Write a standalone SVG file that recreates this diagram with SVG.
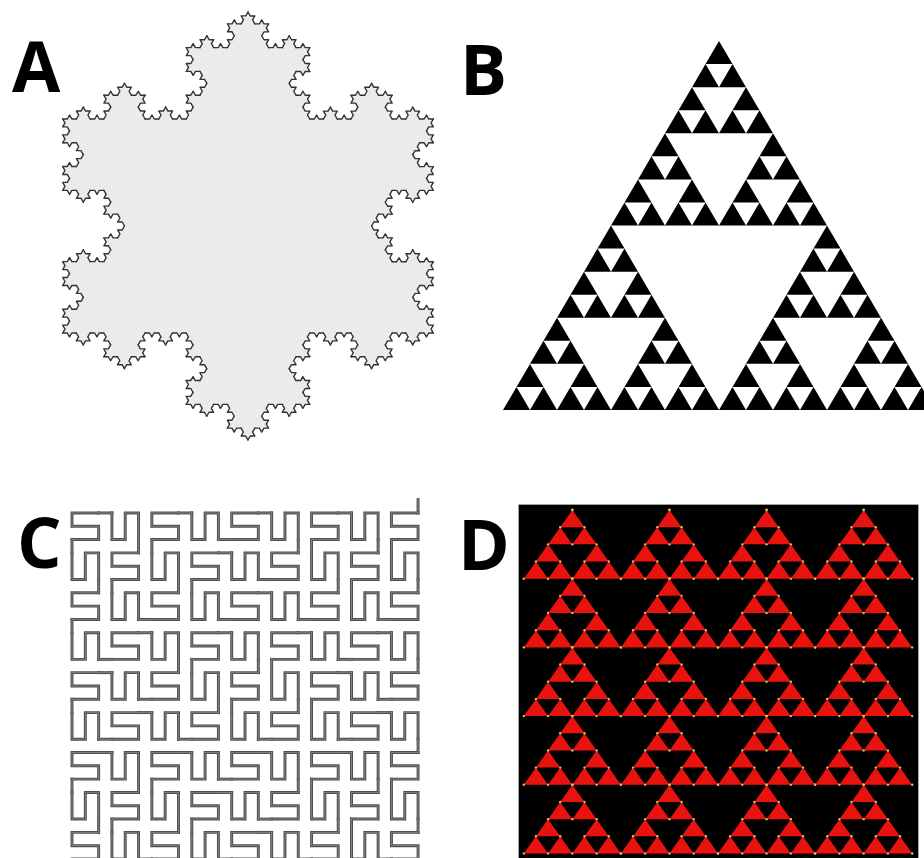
<svg xmlns="http://www.w3.org/2000/svg" width="924" height="858" viewBox="0 0 924 858">
<style>
.lbl{font-family:"Open Sans","Liberation Sans",sans-serif;font-weight:700;font-size:70px;fill:#000}
</style>
<defs>
<!-- Koch curve -->
<path id="k1" d="M0,0 L1,0 L1.5,-0.8660 L2,0 L3,0"/>
<g id="k2"><use href="#k1"/><use href="#k1" transform="translate(3,0) rotate(-60)"/><use href="#k1" transform="translate(4.5,-2.5981) rotate(60)"/><use href="#k1" transform="translate(6,0)"/></g>
<g id="k3"><use href="#k2"/><use href="#k2" transform="translate(9,0) rotate(-60)"/><use href="#k2" transform="translate(13.5,-7.7942) rotate(60)"/><use href="#k2" transform="translate(18,0)"/></g>
<g id="k4"><use href="#k3"/><use href="#k3" transform="translate(27,0) rotate(-60)"/><use href="#k3" transform="translate(40.5,-23.3827) rotate(60)"/><use href="#k3" transform="translate(54,0)"/></g>
<polygon id="f1" points="1,0 1.5,-0.8660 2,0"/>
<g id="f2"><polygon points="3,0 4.5,-2.5981 6,0"/><use href="#f1"/><use href="#f1" transform="translate(3,0) rotate(-60)"/><use href="#f1" transform="translate(4.5,-2.5981) rotate(60)"/><use href="#f1" transform="translate(6,0)"/></g>
<g id="f3"><polygon points="9,0 13.5,-7.7942 18,0"/><use href="#f2"/><use href="#f2" transform="translate(9,0) rotate(-60)"/><use href="#f2" transform="translate(13.5,-7.7942) rotate(60)"/><use href="#f2" transform="translate(18,0)"/></g>
<g id="f4"><polygon points="27,0 40.5,-23.3827 54,0"/><use href="#f3"/><use href="#f3" transform="translate(27,0) rotate(-60)"/><use href="#f3" transform="translate(40.5,-23.3827) rotate(60)"/><use href="#f3" transform="translate(54,0)"/></g>
<!-- Sierpinski -->
<polygon id="s0" points="0,0 1,0 0.5,-0.8660"/>
<g id="s1"><use href="#s0"/><use href="#s0" transform="translate(1,0)"/><use href="#s0" transform="translate(0.5,-0.8660)"/></g>
<g id="s2"><use href="#s1"/><use href="#s1" transform="translate(2,0)"/><use href="#s1" transform="translate(1,-1.7321)"/></g>
<g id="s3"><use href="#s2"/><use href="#s2" transform="translate(4,0)"/><use href="#s2" transform="translate(2,-3.4641)"/></g>
<g id="s4"><use href="#s3"/><use href="#s3" transform="translate(8,0)"/><use href="#s3" transform="translate(4,-6.9282)"/></g>
<!-- Peano-type curve (serpentine, checkerboard transposition) -->
<path id="p1" d="M0,0H2V1H0V2H2"/>
<g id="p2"><use href="#p1" transform="matrix(0,1,1,0,0,0)"/><path d="M2,2H3"/><use href="#p1" transform="translate(3,2) scale(1,-1)"/><path d="M5,0H6"/><use href="#p1" transform="matrix(0,1,1,0,6,0)"/><path d="M8,2V3"/><use href="#p1" transform="translate(8,3) scale(-1,1)"/><path d="M6,5H5"/><use href="#p1" transform="matrix(0,-1,-1,0,5,5)"/><path d="M3,3H2"/><use href="#p1" transform="translate(2,3) scale(-1,1)"/><path d="M0,5V6"/><use href="#p1" transform="matrix(0,1,1,0,0,6)"/><path d="M2,8H3"/><use href="#p1" transform="translate(3,8) scale(1,-1)"/><path d="M5,6H6"/><use href="#p1" transform="matrix(0,1,1,0,6,6)"/></g>
<g id="p3"><use href="#p2" transform="matrix(0,1,1,0,0,0)"/><path d="M8,8H9"/><use href="#p2" transform="translate(9,8) scale(1,-1)"/><path d="M17,0H18"/><use href="#p2" transform="matrix(0,1,1,0,18,0)"/><path d="M26,8V9"/><use href="#p2" transform="translate(26,9) scale(-1,1)"/><path d="M18,17H17"/><use href="#p2" transform="matrix(0,-1,-1,0,17,17)"/><path d="M9,9H8"/><use href="#p2" transform="translate(8,9) scale(-1,1)"/><path d="M0,17V18"/><use href="#p2" transform="matrix(0,1,1,0,0,18)"/><path d="M8,26H9"/><use href="#p2" transform="translate(9,26) scale(1,-1)"/><path d="M17,18H18"/><use href="#p2" transform="matrix(0,1,1,0,18,18)"/><path d="M26,26V27"/></g>
<!-- red tile -->
<g id="tile">
<path fill="#e8120e" d="M0,0h24.28l-12.14,-17.18z M24.28,0h24.28l-12.14,-17.18z M48.55,0h24.28l-12.14,-17.18z M72.83,0h24.28l-12.14,-17.18z M12.14,-17.18h24.28l-12.14,-17.18z M60.69,-17.18h24.28l-12.14,-17.18z M24.28,-34.35h24.28l-12.14,-17.18z M48.55,-34.35h24.28l-12.14,-17.18z M36.41,-51.53h24.28l-12.14,-17.18z"/>
<g fill="#d9c25a">
<circle cx="0" cy="0" r="1.2"/><circle cx="24.28" cy="0" r="1.2"/><circle cx="48.55" cy="0" r="1.2"/><circle cx="72.83" cy="0" r="1.2"/><circle cx="97.1" cy="0" r="1.2"/>
<circle cx="12.14" cy="-17.18" r="1.2"/><circle cx="36.41" cy="-17.18" r="1.2"/><circle cx="60.69" cy="-17.18" r="1.2"/><circle cx="84.96" cy="-17.18" r="1.2"/>
<circle cx="24.28" cy="-34.35" r="1.2"/><circle cx="48.55" cy="-34.35" r="1.2"/><circle cx="72.83" cy="-34.35" r="1.2"/>
<circle cx="36.41" cy="-51.53" r="1.2"/><circle cx="60.69" cy="-51.53" r="1.2"/>
<circle cx="48.55" cy="-68.7" r="1.4"/>
</g>
</g>
</defs>

<g id="panel-a">
<g fill="#ebebeb" stroke="#ebebeb" stroke-width="0.3">
<polygon points="248,12 433.3,333 62.7,333" stroke-width="1"/>
<use href="#f4" transform="translate(248,12) rotate(60) scale(4.5765)"/>
<use href="#f4" transform="translate(433.3,333) rotate(180) scale(4.5765)"/>
<use href="#f4" transform="translate(62.7,333) rotate(-60) scale(4.5765)"/>
</g>
<g fill="none" stroke="#333" stroke-width="0.3" stroke-linejoin="round" stroke-linecap="round">
<use href="#k4" transform="translate(248,12) rotate(60) scale(4.5765)"/>
<use href="#k4" transform="translate(433.3,333) rotate(180) scale(4.5765)"/>
<use href="#k4" transform="translate(62.7,333) rotate(-60) scale(4.5765)"/>
</g>
</g>

<g id="panel-b" fill="#000">
<use href="#s4" transform="translate(503,410) scale(27,26.63)"/>
</g>

<g id="panel-c" fill="none" stroke-linecap="square">
<use href="#p3" transform="translate(72,859) scale(13.31,-13.31)" stroke="#4d4d4d" stroke-width="0.22"/>
<use href="#p3" transform="translate(72,859) scale(13.31,-13.31)" stroke="#9c9c9c" stroke-width="0.05"/>
</g>

<g id="panel-d">
<rect x="518.5" y="504.5" width="400" height="354" fill="#000" stroke="#bbb" stroke-width="0.6"/>
<use href="#tile" transform="translate(523.8,578.7)"/><use href="#tile" transform="translate(620.9,578.7)"/><use href="#tile" transform="translate(718,578.7)"/><use href="#tile" transform="translate(815.1,578.7)"/>
<use href="#tile" transform="translate(523.8,647.4)"/><use href="#tile" transform="translate(620.9,647.4)"/><use href="#tile" transform="translate(718,647.4)"/><use href="#tile" transform="translate(815.1,647.4)"/>
<use href="#tile" transform="translate(523.8,716.1)"/><use href="#tile" transform="translate(620.9,716.1)"/><use href="#tile" transform="translate(718,716.1)"/><use href="#tile" transform="translate(815.1,716.1)"/>
<use href="#tile" transform="translate(523.8,784.8)"/><use href="#tile" transform="translate(620.9,784.8)"/><use href="#tile" transform="translate(718,784.8)"/><use href="#tile" transform="translate(815.1,784.8)"/>
<use href="#tile" transform="translate(523.8,853.5)"/><use href="#tile" transform="translate(620.9,853.5)"/><use href="#tile" transform="translate(718,853.5)"/><use href="#tile" transform="translate(815.1,853.5)"/>
</g>

<g id="labels">
<text class="lbl" x="12" y="92">A</text>
<text class="lbl" x="460" y="95">B</text>
<text class="lbl" x="17" y="568">C</text>
<text class="lbl" x="458" y="570">D</text>
</g>
</svg>
